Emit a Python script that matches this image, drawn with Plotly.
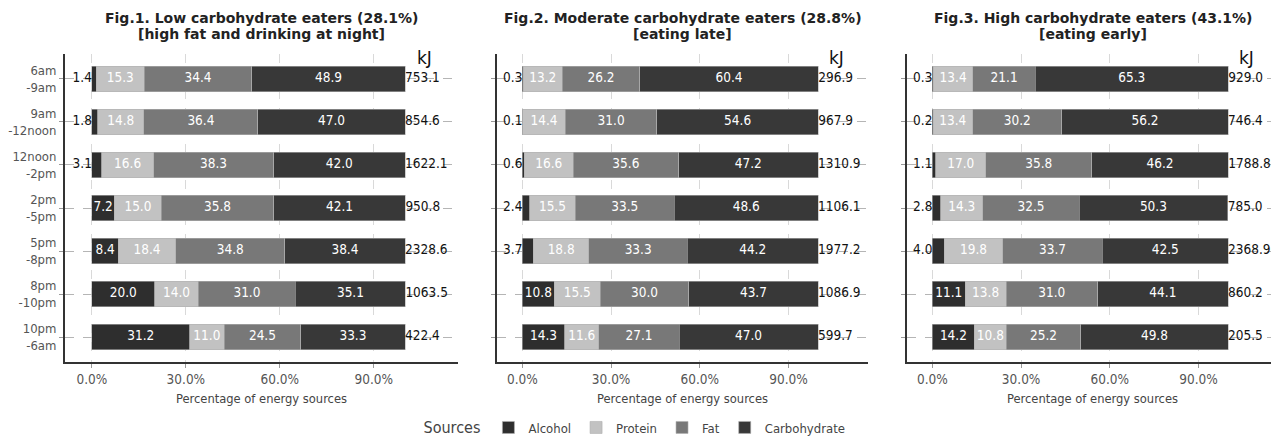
import plotly.graph_objects as go

periods = ["6am<br>-9am", "9am<br>-12noon", "12noon<br>-2pm", "2pm<br>-5pm",
           "5pm<br>-8pm", "8pm<br>-10pm", "10pm<br>-6am"]
sources = ["Alcohol", "Protein", "Fat", "Carbohydrate"]

title_line1 = ["Fig.1. Low carbohydrate eaters (28.1%)",
               "Fig.2. Moderate carbohydrate eaters (28.8%)",
               "Fig.3. High carbohydrate eaters (43.1%)"]
title_line2 = ["[high fat and drinking at night]", "[eating late]", "[eating early]"]

# Panel 1: Low carbohydrate eaters
low_alcohol = [1.4, 1.8, 3.1, 7.2, 8.4, 20.0, 31.2]
low_protein = [15.3, 14.8, 16.6, 15.0, 18.4, 14.0, 11.0]
low_fat = [34.4, 36.4, 38.3, 35.8, 34.8, 31.0, 24.5]
low_carb = [48.9, 47.0, 42.0, 42.1, 38.4, 35.1, 33.3]
low_kj = [753.1, 854.6, 1622.1, 950.8, 2328.6, 1063.5, 422.4]

# Panel 2: Moderate carbohydrate eaters
mod_alcohol = [0.3, 0.1, 0.6, 2.4, 3.7, 10.8, 14.3]
mod_protein = [13.2, 14.4, 16.6, 15.5, 18.8, 15.5, 11.6]
mod_fat = [26.2, 31.0, 35.6, 33.5, 33.3, 30.0, 27.1]
mod_carb = [60.4, 54.6, 47.2, 48.6, 44.2, 43.7, 47.0]
mod_kj = [296.9, 967.9, 1310.9, 1106.1, 1977.2, 1086.9, 599.7]

# Panel 3: High carbohydrate eaters
high_alcohol = [0.3, 0.2, 1.1, 2.8, 4.0, 11.1, 14.2]
high_protein = [13.4, 13.4, 17.0, 14.3, 19.8, 13.8, 10.8]
high_fat = [21.1, 30.2, 35.8, 32.5, 33.7, 31.0, 25.2]
high_carb = [65.3, 56.2, 46.2, 50.3, 42.5, 44.1, 49.8]
high_kj = [929.0, 746.4, 1788.8, 785.0, 2368.9, 860.2, 205.5]

panels = [
    [low_alcohol, low_protein, low_fat, low_carb, low_kj],
    [mod_alcohol, mod_protein, mod_fat, mod_carb, mod_kj],
    [high_alcohol, high_protein, high_fat, high_carb, high_kj],
]

colors = ["#2e2e2e", "#c2c2c2", "#787878", "#383838"]
FONT = "DejaVu Sans Condensed, DejaVu Sans, sans-serif"
TFONT = "DejaVu Sans, sans-serif"
# the page body adds an 8px offset; figure sized so it fills the 1279x441 window
W, H = 1271, 433
OFF = 8


def px_x(s):
    return (s - OFF) / W


def px_y(s):
    return (H - (s - OFF)) / H


xdomains = [(px_x(65), px_x(458)), (px_x(497), px_x(868)), (px_x(907), px_x(1278))]
ydomain = (px_y(362), px_y(54))

fig = go.Figure()

for p, data in enumerate(panels):
    xa = "x" if p == 0 else f"x{p + 1}"
    ya = "y" if p == 0 else f"y{p + 1}"
    segs = data[:4]
    kj = data[4]
    for s, name in enumerate(sources):
        fig.add_trace(go.Bar(
            x=segs[s], y=periods, orientation="h", name=name,
            marker=dict(color=colors[s], line=dict(color="#b0b0b0", width=0.6)),
            width=0.6, xaxis=xa, yaxis=ya, legendgroup=name,
            showlegend=(p == 0), hoverinfo="x+name",
        ))
    for s in range(4):
        base = [sum(segs[k][i] for k in range(s)) for i in range(7)]
        mids = [base[i] + segs[s][i] / 2 for i in range(7)]
        if s == 0:
            idx_in = [i for i in range(7) if segs[0][i] >= 5]
            idx_out = [i for i in range(7) if segs[0][i] < 5]
            fig.add_trace(go.Scatter(
                x=[mids[i] for i in idx_in], y=[periods[i] for i in idx_in],
                text=[f"{segs[0][i]:.1f}" for i in idx_in], mode="text",
                textfont=dict(color="white", size=13.5, family=FONT),
                xaxis=xa, yaxis=ya, showlegend=False, hoverinfo="skip", cliponaxis=False))
            fig.add_trace(go.Scatter(
                x=[0 for i in idx_out], y=[periods[i] for i in idx_out],
                text=[f"{segs[0][i]:.1f}" for i in idx_out], mode="text",
                textposition="middle left",
                textfont=dict(color="#111111", size=13.5, family=FONT),
                xaxis=xa, yaxis=ya, showlegend=False, hoverinfo="skip", cliponaxis=False))
        else:
            fig.add_trace(go.Scatter(
                x=mids, y=periods, text=[f"{v:.1f}" for v in segs[s]], mode="text",
                textfont=dict(color="white", size=13.5, family=FONT),
                xaxis=xa, yaxis=ya, showlegend=False, hoverinfo="skip", cliponaxis=False))
    totals = [sum(segs[k][i] for k in range(4)) for i in range(7)]
    fig.add_trace(go.Scatter(
        x=totals, y=periods, text=[f"{v:.1f}" for v in kj], mode="text",
        textposition="middle right",
        textfont=dict(color="#111111", size=13.5, family=FONT),
        xaxis=xa, yaxis=ya, showlegend=False, hoverinfo="skip", cliponaxis=False))

    xkey = "xaxis" if p == 0 else f"xaxis{p + 1}"
    ykey = "yaxis" if p == 0 else f"yaxis{p + 1}"
    fig.update_layout(**{
        xkey: dict(
            domain=list(xdomains[p]), anchor=ya, range=[-8.6, 116.9], automargin=False,
            tickvals=[0, 30, 60, 90], ticktext=["0.0%", "30.0%", "60.0%", "90.0%"],
            showgrid=True, gridcolor="#d9d9d9", griddash="dash", gridwidth=1,
            zeroline=False, showline=True, linecolor="#333333", linewidth=2,
            ticks="outside", ticklen=4, tickcolor="#999999",
            tickfont=dict(size=13.5, color="#555555", family=FONT),
            title=dict(text="Percentage of energy sources", standoff=8,
                       font=dict(size=12.8, color="#444444", family=FONT)),
        ),
        ykey: dict(
            domain=list(ydomain), anchor=xa, type="category", automargin=False,
            categoryarray=periods, range=[6.58, -0.58],
            showgrid=True, gridcolor="#b5b5b5", griddash="dash", gridwidth=1,
            zeroline=False, showline=True, linecolor="#333333", linewidth=2,
            ticks="outside", ticklen=4, tickcolor="#999999",
            showticklabels=(p == 0),
            tickfont=dict(size=13, color="#555555", family=FONT),
        ),
    })
    cx = (xdomains[p][0] + xdomains[p][1]) / 2
    fig.add_annotation(text="<b>" + title_line1[p] + "</b>", x=cx, y=px_y(18),
                       xref="paper", yref="paper", showarrow=False,
                       xanchor="center", yanchor="middle",
                       font=dict(size=14, color="#222222", family=TFONT))
    fig.add_annotation(text="<b>" + title_line2[p] + "</b>", x=cx, y=px_y(34),
                       xref="paper", yref="paper", showarrow=False,
                       xanchor="center", yanchor="middle",
                       font=dict(size=14, color="#222222", family=TFONT))
    fig.add_annotation(text="kJ", x=106.3, y=px_y(58), xref=xa, yref="paper",
                       showarrow=False, xanchor="center", yanchor="middle",
                       font=dict(size=17, color="#111111", family=TFONT))

fig.update_layout(
    width=W, height=H, barmode="stack", bargap=0.4,
    plot_bgcolor="white", paper_bgcolor="white",
    margin=dict(l=0, r=0, t=0, b=0, autoexpand=False),
    font=dict(family=FONT),
    legend=dict(orientation="h", x=px_x(636), xanchor="center", y=px_y(428),
                yanchor="middle", traceorder="normal", itemwidth=30,
                font=dict(size=13, color="#444444", family=FONT),
                title=dict(text="Sources", font=dict(size=16, color="#444444", family=FONT))),
)

fig.write_html("out.html")
